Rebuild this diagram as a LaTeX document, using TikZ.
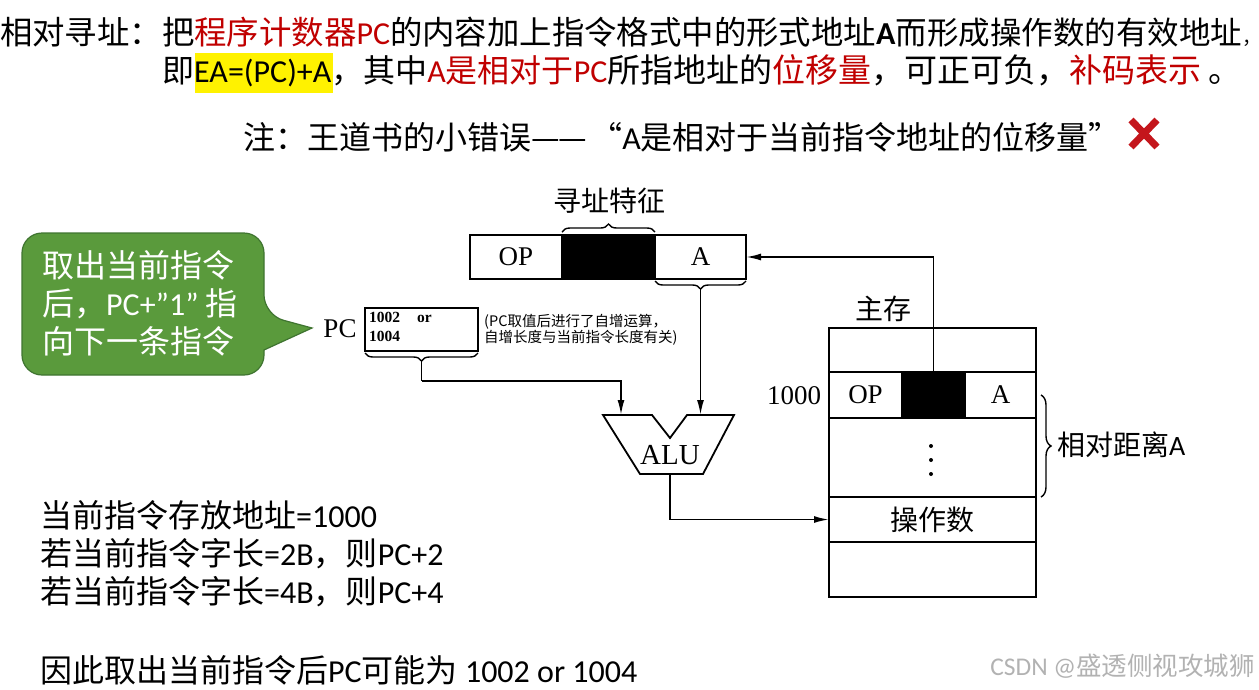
\documentclass[tikz,border=0pt]{standalone}
\usepackage{fontspec}
\setmainfont{Carlito}
\newfontfamily\cjk{Noto Sans CJK SC}
\newfontfamily\serifnum{Liberation Serif}
\newcommand{\zh}[1]{{\cjk #1}}
\newcommand{\zhat}[2]{{\cjk\fontsize{#1}{38}\selectfont #2}}
\newcommand{\wcolon}{^^^^ff1a}
\newcommand{\wcomma}{^^^^ff0c}
\newcommand{\wdash}{^^^^2014\kern-1pt^^^^2014}
\definecolor{hotred}{HTML}{C00000}
\definecolor{crossred}{HTML}{C4161C}
\definecolor{bubblegreen}{HTML}{5A9A3C}
\definecolor{bubbleedge}{HTML}{3F7430}
\usetikzlibrary{decorations.pathreplacing, arrows.meta, positioning}
\tikzset{
  headtext/.style={inner sep=0pt, anchor=base west, font=\fontsize{32}{38}\selectfont},
  cell/.style={draw, line width=1.8pt, inner sep=0pt, outer sep=0pt, font=\serifnum\fontsize{27}{30}\selectfont},
  blackcell/.style={cell, fill=black},
  plainlabel/.style={inner sep=0pt, font=\serifnum\fontsize{27}{30}\selectfont},
  flow/.style={line width=1.8pt, -{Latex[length=15pt,width=7pt]}},
  bracetip/.style={decorate, line width=1.4pt},
}
\begin{document}
\begin{tikzpicture}[x=1pt,y=-1pt]
\useasboundingbox (0,0) rectangle (1259,689);

% Heading lines
\node[headtext] (line1) at (0,44) {\zhat{32.4}{相对寻址\wcolon 把\textcolor{hotred}{程序计数器}}\textcolor{hotred}{PC}\zhat{32.4}{的内容加上指令格式中的形式地址}\textbf{A}\zhat{31.5}{而形成操作数的有效地址}\zhat{19}{\wcomma}};
\fill[yellow] (195,53) rectangle (333,93);
\node[headtext] (line2) at (162,82) {\zh{即}EA=(PC)+A\zh{\wcomma 其中}\textcolor{hotred}{A\zh{是相对于}PC}\zhat{33}{所指地址的\textcolor{hotred}{位移量}\wcomma 可正可负\wcomma\textcolor{hotred}{补码表示} 。}};
\node[headtext] (note) at (243,149) {\zh{注\wcolon 王道书的小错误\wdash\hspace{3pt}“}A\zh{是相对于当前指令地址的位移量”}};
\draw[crossred, line width=7pt] (1131,120) -- (1157,147) (1157,120) -- (1131,147);

% Green bubble
\draw[bubbleedge, fill=bubblegreen, line width=1.2pt, rounded corners=20pt]
  (22,233) -- (264,233) -- (264,315) [sharp corners] -- (312,328) -- (264,350) [rounded corners=20pt] -- (264,375) -- (22,375) -- cycle;
\node[inner sep=0pt, anchor=north west, align=left, text=white, font=\fontsize{32}{38}\selectfont] (bubble) at (42,250)
  {\zh{取出当前指令}\\\zh{后\wcomma}PC+"1" \zh{指}\\\zh{向下一条指令}};

% Instruction
\node[cell, minimum width=92pt, minimum height=44pt] (opfield) at (516,257) {OP};
\node[blackcell, minimum width=93pt, minimum height=44pt, right=0pt of opfield] (idxfield) {};
\node[cell, minimum width=91pt, minimum height=44pt, right=0pt of idxfield] (afield) {A};
\node[inner sep=0pt, font=\cjk\fontsize{28}{30}\selectfont] (idxlabel) at (609,201) {寻址特征};
\draw[bracetip, decoration={brace, amplitude=8pt}] ([yshift=3pt]idxfield.north west) -- ([yshift=3pt]idxfield.north east);
\draw[bracetip, decoration={brace, mirror, amplitude=8pt}] ([yshift=-2pt]afield.south west) -- ([yshift=-2pt]afield.south east);
\coordinate (abrace) at ([yshift=-10pt]afield.south);

% PC
\node[plainlabel] (pclabel) at (340,329) {PC};
\node[draw, line width=1.8pt, outer sep=0pt, minimum width=113pt, minimum height=43pt, inner sep=0pt] (pcbox) at (421.5,329.5) {};
\node[inner sep=0pt, anchor=north west, align=left, font=\serifnum\bfseries\fontsize{15.5}{19}\selectfont] (pcvalue) at (369,312) {1002\hspace{17pt}or\\1004};
\node[inner sep=0pt, anchor=north west, align=left, font=\cjk\fontsize{14.5}{16}\selectfont] (pcnote) at (484,314) {(PC取值后进行了自增运算\wcomma\\自增长度与当前指令长度有关)};
\draw[bracetip, decoration={brace, mirror, amplitude=8pt}] ([yshift=-2pt]pcbox.south west) -- ([yshift=-2pt]pcbox.south east);
\coordinate (pcbrace) at ([yshift=-10pt]pcbox.south);
\coordinate (pcbend) at (421.5,381);

% ALU
\draw[line width=1.8pt] (603,415) -- (652,415) -- (670,438) -- (687,415) -- (734,415) -- (703,474) -- (640,474) -- cycle;
\node[plainlabel, minimum height=38pt, font=\serifnum\fontsize{29}{30}\selectfont] (alu) at (670,455) {ALU};
\coordinate (aluleft) at (621,415);
\coordinate (aluright) at (afield.south |- 0,415);

% Memory
\node[cell, minimum width=207pt, minimum height=44pt] (memtop) at (932.5,350) {};
\node[cell, minimum width=73pt, minimum height=46pt] (memop) at (865.5,395) {OP};
\node[blackcell, minimum width=63pt, minimum height=46pt, right=0pt of memop] (memidx) {};
\node[cell, minimum width=71pt, minimum height=46pt, right=0pt of memidx] (mema) {A};
\node[cell, minimum width=207pt, minimum height=79pt] (memgap) at (932.5,457.5) {};
\node[cell, minimum width=207pt, minimum height=45pt, font=\cjk\fontsize{28}{30}\selectfont] (operand) at (932.5,519.5) {操作数};
\node[cell, minimum width=207pt, minimum height=55pt] (membot) at (932.5,569.5) {};
\node[inner sep=0pt, font=\cjk\fontsize{28}{30}\selectfont] (memlabel) at (883,309) {主存};
\node[plainlabel] (addrlabel) at (794,396) {1000};
\foreach \y in {446,460,474} {
    \fill (931,\y) circle (2pt);
}
\draw[bracetip, decoration={brace, amplitude=10pt}] (1041,395) -- (1041,497);
\node[inner sep=0pt, anchor=west, font=\fontsize{28}{30}\selectfont] (dist) at (1057,445) {\zh{相对距离}A};

% Connectors
\draw[flow] (memidx.north) |- (afield.east);
\draw[flow] (abrace) -- (aluright);
\draw[line width=1.8pt] (pcbrace) -- (pcbend);
\draw[flow] (pcbend) -| (aluleft);
\draw[flow] (alu.south) |- (operand.west);

% Bottom left notes
\node[headtext] (addr) at (40,527) {\zh{当前指令存放地址}=1000};
\node[headtext] (len2) at (40,565) {\zh{若当前指令字长}=2B\zh{\wcomma 则}PC+2};
\node[headtext] (len4) at (40,603) {\zh{若当前指令字长}=4B\zh{\wcomma 则}PC+4};
\node[headtext] (result) at (40,682) {\zh{因此取出当前指令后}PC\zh{可能为} 1002 or 1004};

% Watermark
\node[inner sep=0pt, anchor=base east, text=gray!60, font=\fontsize{25.5}{28}\selectfont] (mark) at (1255,675) {CSDN @\zh{盛透侧视攻城狮}};
\end{tikzpicture}
\end{document}
